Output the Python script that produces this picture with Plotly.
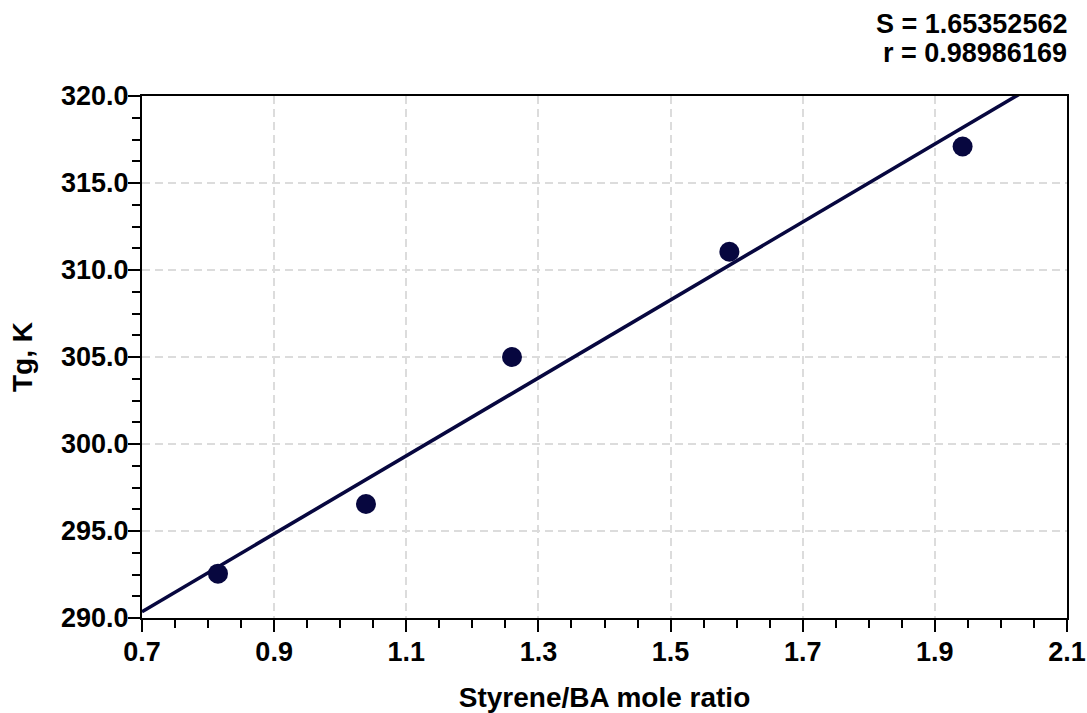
import numpy as np
import plotly.graph_objects as go

# Data
ratio = [0.815, 1.039, 1.260, 1.589, 1.942]
tg = [292.55, 296.55, 305.0, 311.05, 317.1]
fit_x = [0.70, 2.033]
x_ticks = [0.7, 0.9, 1.1, 1.3, 1.5, 1.7, 1.9, 2.1]
y_ticks = [290.0, 295.0, 300.0, 305.0, 310.0, 315.0, 320.0]
stats = ["S = 1.65352562", "r = 0.98986169"]

slope, intercept = np.polyfit(ratio, tg, 1)
fit_y = [slope * v + intercept for v in fit_x]

navy = "#07073f"
font_family = "Liberation Sans, Arial, sans-serif"

fig = go.Figure()
fig.add_trace(go.Scatter(x=fit_x, y=fit_y, mode="lines",
                         line=dict(color=navy, width=3.6), showlegend=False,
                         hoverinfo="skip"))
fig.add_trace(go.Scatter(x=ratio, y=tg, mode="markers",
                         marker=dict(color=navy, size=20, line=dict(width=0)),
                         showlegend=False))

axis_common = dict(
    showline=True, linecolor="black", linewidth=2, mirror=True,
    ticks="outside", ticklen=12, tickwidth=2, tickcolor="black",
    showgrid=True, gridcolor="#dcdcdc", gridwidth=1.5, griddash="8px,5px",
    zeroline=False, automargin=False,
    tickfont=dict(family=font_family, size=27, color="black", weight="bold"),
    tickformat=".1f",
)

fig.update_xaxes(**axis_common, range=[0.7, 2.1], tickvals=x_ticks,
                 ticklabelstandoff=-3,
                 minor=dict(dtick=0.05, tick0=0.7, ticks="outside", ticklen=8,
                            tickwidth=2, tickcolor="black", showgrid=False),
                 title=dict(text="Styrene/BA mole ratio",
                            font=dict(family=font_family, size=28, color="black",
                                      weight="bold"),
                            standoff=35))
fig.update_yaxes(**axis_common, range=[290, 320], tickvals=y_ticks,
                 ticklabelstandoff=-6,
                 minor=dict(dtick=1.25, tick0=290, ticks="outside", ticklen=8,
                            tickwidth=2, tickcolor="black", showgrid=False),
                 title=dict(text="Tg, K",
                            font=dict(family=font_family, size=28, color="black",
                                      weight="bold"),
                            standoff=20))

for i, (txt, yp) in enumerate(zip(stats, [1.138, 1.082])):
    fig.add_annotation(text=txt, xref="paper", yref="paper", x=1.002, y=yp,
                       xanchor="right", yanchor="middle", showarrow=False,
                       font=dict(family=font_family, size=27, color="black",
                                 weight="bold"))

fig.update_layout(
    width=1087, height=713,
    margin=dict(l=142, r=20, t=96, b=95),
    plot_bgcolor="white", paper_bgcolor="white",
)

fig.write_html("out.html")
